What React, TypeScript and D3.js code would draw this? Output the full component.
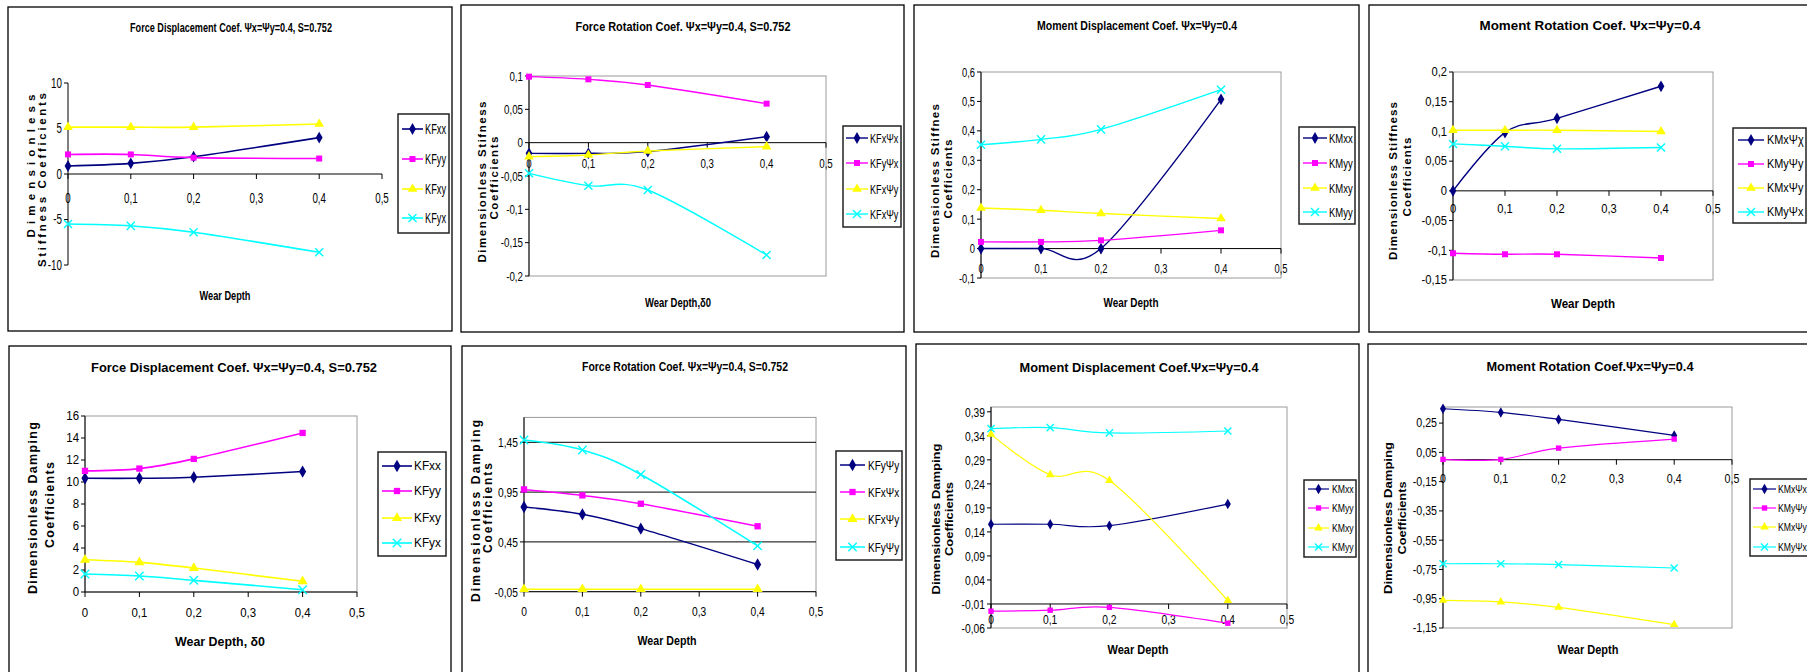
import React from 'react';
import * as d3 from 'd3';

// ---------- DATA ----------
const wearDepth = [0, 0.1, 0.2, 0.4];
const xTicks = [0, 0.1, 0.2, 0.3, 0.4, 0.5];

// Panel 1: Force Displacement (stiffness)
const p1Names = ['KFxx', 'KFyy', 'KFxy', 'KFyx'];
const p1KFxx = [0.88, 1.17, 1.9, 4.0];
const p1KFyy = [2.15, 2.15, 1.8, 1.7];
const p1KFxy = [5.15, 5.15, 5.15, 5.5];
const p1KFyx = [-5.5, -5.7, -6.4, -8.6];
const p1YTicks = [-10, -5, 0, 5, 10];

// Panel 2: Force Rotation (stiffness)
const p2Names = ['KFxΨx', 'KFyΨx', 'KFxΨy', 'KFxΨy'];
const p2A = [-0.016, -0.016, -0.0135, 0.009];
const p2B = [0.099, 0.095, 0.0865, 0.0585];
const p2C = [-0.021, -0.0185, -0.0125, -0.006];
const p2D = [-0.046, -0.0645, -0.071, -0.1685];
const p2YTicks = [-0.2, -0.15, -0.1, -0.05, 0, 0.05, 0.1];

// Panel 3: Moment Displacement (stiffness)
const p3Names = ['KMxx', 'KMyy', 'KMxy', 'KMyy'];
const p3A = [0, 0, 0, 0.507];
const p3B = [0.0226, 0.0226, 0.028, 0.062];
const p3C = [0.138, 0.13, 0.119, 0.102];
const p3D = [0.353, 0.371, 0.405, 0.54];
const p3YTicks = [-0.1, 0, 0.1, 0.2, 0.3, 0.4, 0.5, 0.6];

// Panel 4: Moment Rotation (stiffness)
const p4Names = ['KMxΨχ', 'KMyΨy', 'KMxΨy', 'KMyΨx'];
const p4A = [0, 0.098, 0.122, 0.176];
const p4B = [-0.105, -0.1067, -0.1067, -0.113];
const p4C = [0.102, 0.102, 0.102, 0.1];
const p4D = [0.079, 0.075, 0.0707, 0.073];
const p4YTicks = [-0.15, -0.1, -0.05, 0, 0.05, 0.1, 0.15, 0.2];

// Panel 5: Force Displacement (damping)
const p5Names = ['KFxx', 'KFyy', 'KFxy', 'KFyx'];
const p5A = [10.34, 10.34, 10.43, 10.95];
const p5B = [11.01, 11.22, 12.1, 14.46];
const p5C = [2.93, 2.69, 2.18, 0.97];
const p5D = [1.63, 1.45, 1.06, 0.21];
const p5YTicks = [0, 2, 4, 6, 8, 10, 12, 14, 16];

// Panel 6: Force Rotation (damping)
const p6Names = ['KFyΨy', 'KFxΨx', 'KFxΨy', 'KFyΨy'];
const p6A = [0.8, 0.727, 0.583, 0.223];
const p6B = [0.977, 0.917, 0.833, 0.607];
const p6C = [-0.025, -0.025, -0.025, -0.025];
const p6D = [1.473, 1.373, 1.127, 0.41];
const p6YTicks = [-0.05, 0.45, 0.95, 1.45];

// Panel 7: Moment Displacement (damping)
const p7Names = ['KMxx', 'KMyy', 'KMxy', 'KMyy'];
const p7A = [0.156, 0.156, 0.153, 0.198];
const p7B = [-0.025, -0.023, -0.017, -0.05];
const p7C = [0.343, 0.259, 0.247, -0.003];
const p7D = [0.355, 0.357, 0.346, 0.35];
const p7YTicks = [-0.06, -0.01, 0.04, 0.09, 0.14, 0.19, 0.24, 0.29, 0.34, 0.39];

// Panel 8: Moment Rotation (damping)
const p8Names = ['KMxΨx', 'KMyΨy', 'KMxΨy', 'KMyΨx'];
const p8A = [0.348, 0.323, 0.275, 0.166];
const p8B = [0.002, 0.002, 0.079, 0.141];
const p8C = [-0.961, -0.972, -1.009, -1.127];
const p8D = [-0.711, -0.711, -0.717, -0.74];
const p8YTicks = [-1.15, -0.95, -0.75, -0.55, -0.35, -0.15, 0.05, 0.25];

// ---------- STYLE ----------
const colors = ['#000080', '#FF00FF', '#FFFF00', '#00FFFF'];
const symbols = [d3.symbolDiamond, d3.symbolSquare, d3.symbolTriangle, d3.symbolX];
const FONT = '"Liberation Sans", Arial, sans-serif';

const fmt = (v: number) => {
  let r = Math.round(v * 100) / 100;
  if (Object.is(r, -0)) r = 0;
  return String(r).replace('.', ',');
};

type TextSpec = { text: string; x: number; y: number; w: number };
type Layout = {
  border: [number, number, number, number];
  x0: number; x1: number; yTop: number; yBot: number;
  frame: boolean; grid: boolean; crossAt: number;
  title: TextSpec; titleSize: number;
  tickSize: number; tickSx: number; xLabelY: number;
  xTitle: TextSpec;
  yTitle: TextSpec[]; yTitleSize: number; yAdjust: 'spacing' | 'spacingAndGlyphs';
  legend: { box: [number, number, number, number]; itemsY: number[]; lineX: [number, number]; textX: number; size: number; sx: number };
  mk: number; lw: number;
};
type PanelData = { names: string[]; series: number[][]; domain: [number, number]; yTicks: number[] };

const panels: { layout: Layout; data: PanelData }[] = [
  {
    data: { names: p1Names, series: [p1KFxx, p1KFyy, p1KFxy, p1KFyx], domain: [-10, 10], yTicks: p1YTicks },
    layout: {
      border: [8, 7, 452, 331], x0: 68, x1: 382, yTop: 83, yBot: 265, frame: false, grid: false, crossAt: 0,
      title: { text: 'Force Displacement Coef. Ψx=Ψy=0.4, S=0.752', x: 231, y: 28, w: 202 }, titleSize: 12.5,
      tickSize: 14, tickSx: 0.7, xLabelY: 198,
      xTitle: { text: 'Wear Depth', x: 225, y: 296, w: 51 },
      yTitle: [{ text: 'Dimensionless', x: 31, y: 166, w: 143 }, { text: 'Stiffness Coefficients', x: 42, y: 180, w: 174 }],
      yTitleSize: 11.5, yAdjust: 'spacing',
      legend: { box: [398, 114, 449, 233], itemsY: [129, 159, 189, 218], lineX: [402, 423], textX: 425, size: 14, sx: 0.66 },
      mk: 40, lw: 1.6,
    },
  },
  {
    data: { names: p2Names, series: [p2A, p2B, p2C, p2D], domain: [-0.2, 0.1], yTicks: p2YTicks },
    layout: {
      border: [461, 5, 904, 332], x0: 529, x1: 826, yTop: 76, yBot: 276, frame: true, grid: false, crossAt: 0,
      title: { text: 'Force Rotation Coef. Ψx=Ψy=0.4, S=0.752', x: 683, y: 26, w: 215 }, titleSize: 13,
      tickSize: 13, tickSx: 0.75, xLabelY: 163,
      xTitle: { text: 'Wear Depth,δ0', x: 678, y: 303, w: 66 },
      yTitle: [{ text: 'Dimensionless Stifness', x: 482, y: 182, w: 161 }, { text: 'Coefficients', x: 494, y: 178, w: 83 }],
      yTitleSize: 11.5, yAdjust: 'spacing',
      legend: { box: [843, 126, 901, 227], itemsY: [138, 163, 189, 214], lineX: [846, 868], textX: 870, size: 13, sx: 0.7 },
      mk: 40, lw: 1.4,
    },
  },
  {
    data: { names: p3Names, series: [p3A, p3B, p3C, p3D], domain: [-0.1, 0.6], yTicks: p3YTicks },
    layout: {
      border: [914, 5, 1359, 332], x0: 981, x1: 1281, yTop: 72, yBot: 278, frame: true, grid: false, crossAt: 0,
      title: { text: 'Moment  Displacement Coef. Ψx=Ψy=0.4', x: 1137, y: 25, w: 200 }, titleSize: 13,
      tickSize: 13, tickSx: 0.72, xLabelY: 268,
      xTitle: { text: 'Wear Depth', x: 1131, y: 303, w: 55 },
      yTitle: [{ text: 'Dimensionless Stiffnes', x: 935, y: 181, w: 154 }, { text: 'Coefficients', x: 948, y: 179, w: 79 }],
      yTitleSize: 11.5, yAdjust: 'spacing',
      legend: { box: [1299, 127, 1355, 224], itemsY: [138, 163, 188, 212], lineX: [1303, 1327], textX: 1329, size: 13, sx: 0.73 },
      mk: 40, lw: 1.4,
    },
  },
  {
    data: { names: p4Names, series: [p4A, p4B, p4C, p4D], domain: [-0.15, 0.2], yTicks: p4YTicks },
    layout: {
      border: [1369, 5, 1815, 332], x0: 1453, x1: 1713, yTop: 72, yBot: 280, frame: true, grid: false, crossAt: 0,
      title: { text: 'Moment Rotation Coef. Ψx=Ψy=0.4', x: 1590, y: 25, w: 221 }, titleSize: 13,
      tickSize: 13, tickSx: 0.86, xLabelY: 209,
      xTitle: { text: 'Wear Depth', x: 1583, y: 304, w: 64 },
      yTitle: [{ text: 'Dimensionless Stiffness', x: 1393, y: 181, w: 158 }, { text: 'Coefficients', x: 1407, y: 177, w: 79 }],
      yTitleSize: 11.5, yAdjust: 'spacing',
      legend: { box: [1733, 128, 1806, 223], itemsY: [140, 164, 188, 212], lineX: [1738, 1764], textX: 1767, size: 13, sx: 0.84 },
      mk: 40, lw: 1.4,
    },
  },
  {
    data: { names: p5Names, series: [p5A, p5B, p5C, p5D], domain: [0, 16], yTicks: p5YTicks },
    layout: {
      border: [9, 346, 451, 690], x0: 85, x1: 357, yTop: 416, yBot: 592, frame: true, grid: false, crossAt: 0,
      title: { text: 'Force Displacement Coef. Ψx=Ψy=0.4, S=0.752', x: 234, y: 367, w: 286 }, titleSize: 13,
      tickSize: 13, tickSx: 0.88, xLabelY: 613,
      xTitle: { text: 'Wear Depth, δ0', x: 220, y: 642, w: 90 },
      yTitle: [{ text: 'Dimensionless Damping', x: 33, y: 508, w: 172 }, { text: 'Coefficients', x: 50, y: 505, w: 86 }],
      yTitleSize: 12.5, yAdjust: 'spacing',
      legend: { box: [378, 452, 446, 556], itemsY: [466, 491, 518, 543], lineX: [382, 412], textX: 414, size: 13, sx: 0.91 },
      mk: 44, lw: 1.6,
    },
  },
  {
    data: { names: p6Names, series: [p6A, p6B, p6C, p6D], domain: [-0.05, 1.7], yTicks: p6YTicks },
    layout: {
      border: [462, 346, 906, 690], x0: 524, x1: 816, yTop: 417.4, yBot: 591.7, frame: true, grid: true, crossAt: -0.05,
      title: { text: 'Force Rotation Coef. Ψx=Ψy=0.4, S=0.752', x: 685, y: 367, w: 206 }, titleSize: 12.5,
      tickSize: 13, tickSx: 0.79, xLabelY: 611,
      xTitle: { text: 'Wear Depth', x: 667, y: 641, w: 59 },
      yTitle: [{ text: 'Dimensionless Damping', x: 476, y: 511, w: 182 }, { text: 'Coefficients', x: 488, y: 508, w: 90 }],
      yTitleSize: 12, yAdjust: 'spacing',
      legend: { box: [836, 451, 902, 560], itemsY: [465, 492, 519, 547], lineX: [840, 865], textX: 868, size: 13, sx: 0.77 },
      mk: 44, lw: 1.5,
    },
  },
  {
    data: { names: p7Names, series: [p7A, p7B, p7C, p7D], domain: [-0.06, 0.4], yTicks: p7YTicks },
    layout: {
      border: [916, 344, 1359, 690], x0: 991, x1: 1287, yTop: 407, yBot: 628, frame: true, grid: false, crossAt: -0.01,
      title: { text: 'Moment Displacement Coef.Ψx=Ψy=0.4', x: 1139, y: 367, w: 239 }, titleSize: 13,
      tickSize: 13, tickSx: 0.79, xLabelY: 619,
      xTitle: { text: 'Wear Depth', x: 1138, y: 650, w: 61 },
      yTitle: [{ text: 'Dimensionless Damping', x: 936, y: 519, w: 151 }, { text: 'Coefficients', x: 949, y: 519, w: 74 }],
      yTitleSize: 11.5, yAdjust: 'spacingAndGlyphs',
      legend: { box: [1304, 480, 1356, 557], itemsY: [489, 508, 528, 547], lineX: [1308, 1329], textX: 1332, size: 11, sx: 0.79 },
      mk: 32, lw: 1.2,
    },
  },
  {
    data: { names: p8Names, series: [p8A, p8B, p8C, p8D], domain: [-1.15, 0.36], yTicks: p8YTicks },
    layout: {
      border: [1368, 344, 1815, 690], x0: 1443, x1: 1732, yTop: 407, yBot: 628, frame: true, grid: false, crossAt: 0,
      title: { text: 'Moment Rotation Coef.Ψx=Ψy=0.4', x: 1590, y: 366, w: 207 }, titleSize: 13,
      tickSize: 13, tickSx: 0.82, xLabelY: 479,
      xTitle: { text: 'Wear Depth', x: 1588, y: 650, w: 61 },
      yTitle: [{ text: 'Dimensionless Damping', x: 1388, y: 518, w: 152 }, { text: 'Coefficients', x: 1402, y: 518, w: 73 }],
      yTitleSize: 11.5, yAdjust: 'spacingAndGlyphs',
      legend: { box: [1750, 479, 1815, 556], itemsY: [489, 508, 527, 547], lineX: [1753, 1776], textX: 1778, size: 11, sx: 0.79 },
      mk: 32, lw: 1.2,
    },
  },
];

function Marker({ i, x, y, size }: { i: number; x: number; y: number; size: number }) {
  const path = d3.symbol().type(symbols[i]).size(i === 3 ? size * 1.1 : i === 1 ? size * 0.9 : size)() || '';
  if (i === 3) {
    return <path d={path} transform={`translate(${x},${y})`} fill="none" stroke={colors[i]} strokeWidth={1.4} />;
  }
  return <path d={path} transform={`translate(${x},${y})`} fill={colors[i]} stroke="none" />;
}

function Panel({ layout: L, data: D }: { layout: Layout; data: PanelData }) {
  const x = d3.scaleLinear().domain([0, 0.5]).range([L.x0, L.x1]);
  const y = d3.scaleLinear().domain(D.domain).range([L.yBot, L.yTop]);
  const line = d3.line<[number, number]>().x((d) => x(d[0])).y((d) => y(d[1])).curve(d3.curveCardinal.tension(0));
  const yAxis = y(L.crossAt);
  const [bx0, by0, bx1, by1] = L.border;
  const lg = L.legend;
  return (
    <g fontFamily={FONT}>
      <rect x={bx0} y={by0} width={bx1 - bx0} height={by1 - by0} fill="#fff" stroke="#000" strokeWidth={1.3} />
      <text x={L.title.x} y={L.title.y} textAnchor="middle" dominantBaseline="central" fontWeight="bold"
        fontSize={L.titleSize} textLength={L.title.w} lengthAdjust="spacingAndGlyphs">{L.title.text}</text>
      {L.frame && (
        <rect x={L.x0} y={L.yTop} width={L.x1 - L.x0} height={L.yBot - L.yTop} fill="none" stroke="#9a9a9a" strokeWidth={1} />
      )}
      {L.grid && D.yTicks.filter((t) => t > D.domain[0]).map((t) => (
        <line key={'g' + t} x1={L.x0} x2={L.x1} y1={y(t)} y2={y(t)} stroke="#000" strokeWidth={1} />
      ))}
      {/* y axis */}
      <line x1={L.x0} x2={L.x0} y1={L.yTop} y2={L.yBot} stroke="#000" strokeWidth={1} />
      {D.yTicks.map((t) => (
        <g key={'yt' + t}>
          <line x1={L.x0 - 4} x2={L.x0} y1={y(t)} y2={y(t)} stroke="#000" strokeWidth={1} />
          <text transform={`translate(${L.x0 - 6},${y(t)}) scale(${L.tickSx},1)`} textAnchor="end" dominantBaseline="central"
            fontSize={L.tickSize} fill="#000">{fmt(t)}</text>
        </g>
      ))}
      {/* x axis */}
      <line x1={L.x0} x2={L.x1} y1={yAxis} y2={yAxis} stroke="#000" strokeWidth={1} />
      {xTicks.map((t) => (
        <g key={'xt' + t}>
          <line x1={x(t)} x2={x(t)} y1={yAxis} y2={yAxis + 5} stroke="#000" strokeWidth={1} />
          <text transform={`translate(${x(t)},${L.xLabelY}) scale(${L.tickSx},1)`} textAnchor="middle" dominantBaseline="central"
            fontSize={L.tickSize} fill="#000">{fmt(t)}</text>
        </g>
      ))}
      {/* axis titles */}
      <text x={L.xTitle.x} y={L.xTitle.y} textAnchor="middle" dominantBaseline="central" fontWeight="bold" fontSize={12.5}
        textLength={L.xTitle.w} lengthAdjust="spacingAndGlyphs">{L.xTitle.text}</text>
      {L.yTitle.map((yt, k) => (
        <text key={'ytt' + k} transform={`translate(${yt.x},${yt.y}) rotate(-90)`} textAnchor="middle" dominantBaseline="central"
          fontWeight="bold" fontSize={L.yTitleSize} textLength={yt.w} lengthAdjust={L.yAdjust}>{yt.text}</text>
      ))}
      {/* series */}
      {D.series.map((s, i) => {
        const pts = wearDepth.map((w, k) => [w, s[k]] as [number, number]);
        return (
          <g key={'s' + i}>
            <path d={line(pts) || ''} fill="none" stroke={colors[i]} strokeWidth={L.lw} />
            {pts.map((p, k) => <Marker key={k} i={i} x={x(p[0])} y={y(p[1])} size={L.mk} />)}
          </g>
        );
      })}
      {/* legend */}
      <rect x={lg.box[0]} y={lg.box[1]} width={lg.box[2] - lg.box[0]} height={lg.box[3] - lg.box[1]} fill="#fff" stroke="#222" strokeWidth={1.5} />
      {D.names.map((n, i) => (
        <g key={'l' + i}>
          <line x1={lg.lineX[0]} x2={lg.lineX[1]} y1={lg.itemsY[i]} y2={lg.itemsY[i]} stroke={colors[i]} strokeWidth={L.lw} />
          <Marker i={i} x={(lg.lineX[0] + lg.lineX[1]) / 2} y={lg.itemsY[i]} size={L.mk} />
          <text transform={`translate(${lg.textX},${lg.itemsY[i]}) scale(${lg.sx},1)`} dominantBaseline="central" fontSize={lg.size} fill="#000">{n}</text>
        </g>
      ))}
    </g>
  );
}

export default function App() {
  return (
    <svg width={1807} height={672} style={{ position: 'absolute', left: 0, top: 0, background: '#fff' }}>
      <rect x={0} y={0} width={1807} height={672} fill="#fff" />
      {panels.map((p, i) => <Panel key={i} layout={p.layout} data={p.data} />)}
    </svg>
  );
}
